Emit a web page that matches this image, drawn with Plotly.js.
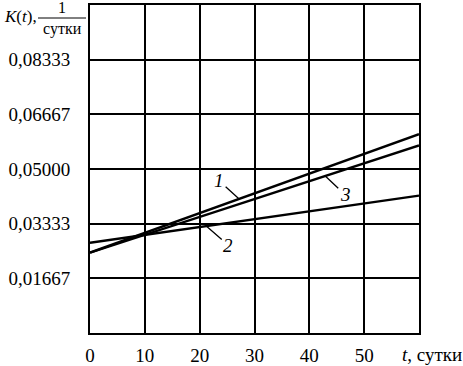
<!DOCTYPE html>
<html>
<head>
<meta charset="utf-8">
<script src="https://cdn.plot.ly/plotly-3.0.1.min.js"></script>
<style>
  html, body { margin: 0; padding: 0; background: #fff; }
  #plot { width: 463px; height: 366px; }
</style>
</head>
<body>
<div id="plot"></div>
<script>
// значения (t, сутки -> K(t), 1/сутки)
var tVals = [0, 60];
var k1 = [0.0245, 0.0606];
var k2 = [0.0275, 0.0419];
var k3 = [0.0245, 0.0572];

var xTickVals = [0, 10, 20, 30, 40, 50];
var xTickText = ['0', '10', '20', '30', '40', '50'];
var yTickVals = [0.01667, 0.03333, 0.05, 0.06667, 0.08333];
var yTickText = ['0,01667', '0,03333', '0,05000', '0,06667', '0,08333'];

var curveLabels = ['1', '2', '3'];
var labelAt = [27.2, 21.2, 42.9];   // где выноска касается линии, сутки

var W = 463, H = 366;
var margin = { l: 90, r: 44, t: 5, b: 33 };
var fontFam = "'Liberation Serif', 'Times New Roman', Times, serif";

// пиксели -> доли области графика (для подписей вне графика)
function px(x) { return (x - margin.l) / (W - margin.l - margin.r); }
function py(y) { return 1 - (y - margin.t) / (H - margin.t - margin.b); }

function lineAt(series, t) {
    return series[0] + (series[1] - series[0]) * (t - tVals[0]) / (tVals[1] - tVals[0]);
}

var series = [k1, k2, k3];
var data = series.map(function (s) {
    return { type: 'scatter', mode: 'lines', x: tVals, y: s,
             line: { color: '#000', width: 2.4 }, hoverinfo: 'none' };
});

var offsets = [[-20, -18], [22, 19], [20, 19]];
var annotations = series.map(function (s, i) {
    return {
        x: labelAt[i], y: lineAt(s, labelAt[i]), xref: 'x', yref: 'y',
        text: '<i>' + curveLabels[i] + '</i>',
        showarrow: true, arrowhead: 0, arrowwidth: 1.3, arrowcolor: '#000',
        ax: offsets[i][0], ay: offsets[i][1], standoff: 0, startstandoff: 0,
        font: { family: fontFam, size: 19, color: '#000' }
    };
});

annotations.push(
    { xref: 'paper', yref: 'paper', x: px(2), y: py(16), xanchor: 'left', yanchor: 'middle',
      text: '<i>K</i>(<i>t</i>),', showarrow: false,
      font: { family: fontFam, size: 17, color: '#000' } },
    { xref: 'paper', yref: 'paper', x: px(62), y: py(18), xanchor: 'center', yanchor: 'bottom',
      text: '1', showarrow: false,
      font: { family: fontFam, size: 16, color: '#000' } },
    { xref: 'paper', yref: 'paper', x: px(62), y: py(18), xanchor: 'center', yanchor: 'top',
      text: 'сутки', showarrow: false,
      font: { family: fontFam, size: 16, color: '#000' } },
    { xref: 'paper', yref: 'paper', x: px(400), y: py(354), xanchor: 'left', yanchor: 'middle',
      text: '<i>t</i>, сутки', showarrow: false,
      font: { family: fontFam, size: 19, color: '#000' } }
);

var shapes = [
    { type: 'line', xref: 'paper', yref: 'paper', x0: px(38), x1: px(86), y0: py(18), y1: py(18),
      line: { color: '#000', width: 1 } }
];

var layout = {
    width: W, height: H,
    margin: margin,
    paper_bgcolor: '#fff', plot_bgcolor: '#fff',
    showlegend: false,
    font: { family: fontFam, size: 19, color: '#000' },
    xaxis: {
        range: [0, 60], tickvals: xTickVals, ticktext: xTickText,
        showgrid: true, gridcolor: '#000', gridwidth: 2,
        showline: true, linecolor: '#000', linewidth: 2, mirror: true,
        zeroline: false, ticks: '', ticklabelstandoff: 4, fixedrange: true
    },
    yaxis: {
        range: [0, 0.1], tickvals: yTickVals, ticktext: yTickText,
        showgrid: true, gridcolor: '#000', gridwidth: 2,
        showline: true, linecolor: '#000', linewidth: 2, mirror: true,
        zeroline: false, ticks: '', ticklabelstandoff: 14, fixedrange: true
    },
    annotations: annotations,
    shapes: shapes
};

Plotly.newPlot('plot', data, layout, { displayModeBar: false, staticPlot: true });
</script>
</body>
</html>
